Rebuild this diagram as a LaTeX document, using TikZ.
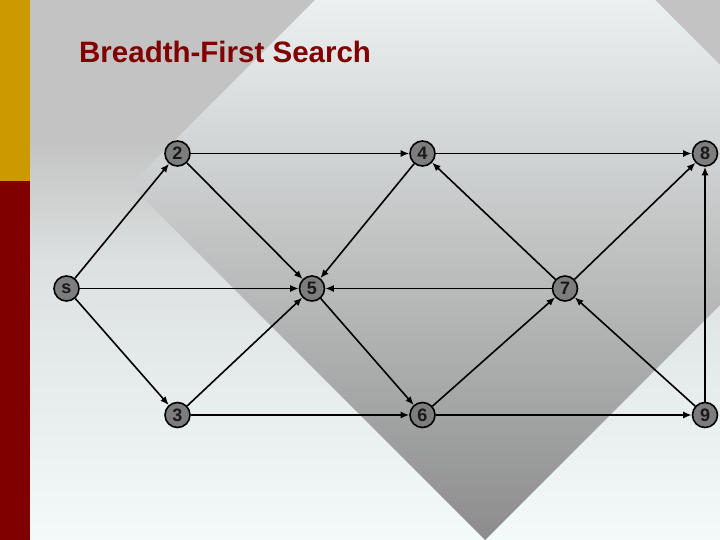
\documentclass[tikz,border=0pt]{standalone}
\usepackage{fontspec}
\setmainfont{Liberation Sans}
\usetikzlibrary{arrows.meta}
\definecolor{barGold}{RGB}{204,153,0}
\definecolor{barRed}{RGB}{128,0,0}
\definecolor{bgTop}{RGB}{195,195,195}
\definecolor{bgMid}{RGB}{220,224,224}
\definecolor{bgBot}{RGB}{243,250,250}
\definecolor{dTop}{RGB}{236,240,240}
\definecolor{dBot}{RGB}{140,140,140}
\definecolor{nodeGray}{RGB}{125,125,125}
\definecolor{textDark}{RGB}{25,25,25}
\begin{document}
\begin{tikzpicture}[x=1pt,y=-1pt,
  vert/.style={circle,draw=black,line width=1.6pt,fill=nodeGray,minimum size=25pt,inner sep=0pt,
    font=\fontsize{18}{18}\selectfont\bfseries,text=textDark},
  edge/.style={line width=1.6pt,-{Latex[length=8.5pt,width=7pt]}}
]
\useasboundingbox (0,0) rectangle (720,540);
% background
\fill[bgTop] (0,0) rectangle (720,141);
\shade[top color=bgTop,bottom color=bgMid] (0,140) rectangle (720,261);
\shade[top color=bgMid,bottom color=bgBot] (0,260) rectangle (720,540);
% diamond
\begin{scope}
  \clip (485,-170) -- (840,185) -- (485,540) -- (130,185) -- cycle;
  \shade[top color=dTop,bottom color=dBot] (0,0) rectangle (720,540);
\end{scope}
% left bars
\fill[barGold] (0,0) rectangle (30,181);
\fill[barRed] (0,181) rectangle (30,540);
% title
\node[anchor=base west,inner sep=0pt,text=barRed,font=\fontsize{29.5}{30}\selectfont\bfseries] (title) at (79,62.5) {Breadth-First Search};
% vertices
\node[vert] (n2) at (177.5,153.5) {2};
\node[vert] (n4) at (422.5,153.5) {4};
\node[vert] (n8) at (705,153.5) {8};
\node[vert] (ns) at (66.5,288.5) {s};
\node[vert] (n5) at (312,288.5) {5};
\node[vert] (n7) at (565,288.5) {7};
\node[vert] (n3) at (177.5,415) {3};
\node[vert] (n6) at (422.5,415) {6};
\node[vert] (n9) at (705,415) {9};
% edges
\draw[edge] (ns) -- (n2);
\draw[edge] (ns) -- (n5);
\draw[edge] (ns) -- (n3);
\draw[edge] (n2) -- (n4);
\draw[edge] (n2) -- (n5);
\draw[edge] (n4) -- (n8);
\draw[edge] (n4) -- (n5);
\draw[edge] (n7) -- (n4);
\draw[edge] (n7) -- (n5);
\draw[edge] (n7) -- (n8);
\draw[edge] (n3) -- (n5);
\draw[edge] (n3) -- (n6);
\draw[edge] (n5) -- (n6);
\draw[edge] (n6) -- (n7);
\draw[edge] (n6) -- (n9);
\draw[edge] (n9) -- (n7);
\draw[edge] (n9) -- (n8);
\end{tikzpicture}
\end{document}
